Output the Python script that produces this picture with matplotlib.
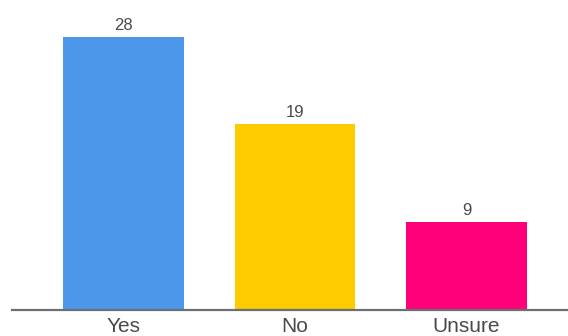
import matplotlib
matplotlib.use('Agg')
import matplotlib.pyplot as plt

categories = ['Yes', 'No', 'Unsure']
counts = [28, 19, 9]
colors = ['#4d97eb', '#fecb00', '#ff0078']

plt.rcParams['font.family'] = ['Liberation Sans', 'DejaVu Sans']

fig = plt.figure(figsize=(5.68, 3.36), dpi=100)
# axes spans from the left end of the baseline to the right edge
ax = fig.add_axes([11.7 / 568, 26.5 / 336, 556.3 / 568, 309.5 / 336])

x = range(len(categories))
bars = ax.bar(x, counts, width=0.703, color=colors)

for rect, val in zip(bars, counts):
    ax.annotate(str(val), (rect.get_x() + rect.get_width() / 2, rect.get_height()),
                xytext=(0, 3), textcoords='offset points',
                ha='center', va='bottom', fontsize=12, color='#4a4a4a')

ax.set_xlim(-0.653, 2.592)
ax.set_ylim(0, 31.78)
ax.set_xticks(list(x))
ax.set_xticklabels(categories, fontsize=15, color='#4a4a4a')
ax.tick_params(axis='x', length=0, pad=5.5)
ax.set_yticks([])
for side in ['top', 'right', 'left']:
    ax.spines[side].set_visible(False)
ax.spines['bottom'].set_color('#6b6e75')
ax.spines['bottom'].set_linewidth(1.6)

fig.savefig('out.png', dpi=100)
